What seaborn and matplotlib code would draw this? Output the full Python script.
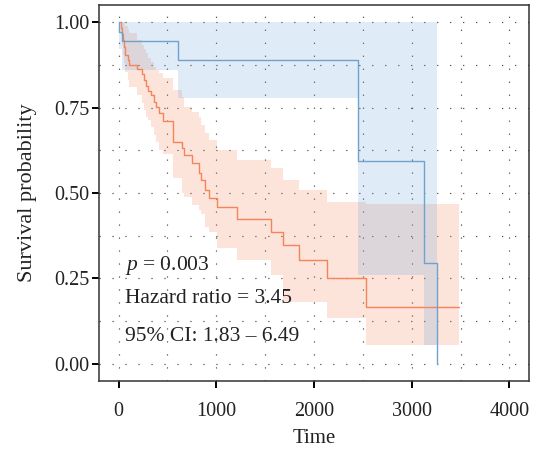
import matplotlib
matplotlib.use("Agg")
import matplotlib.pyplot as plt
import seaborn as sns
import pandas as pd
from matplotlib.ticker import MultipleLocator

# ---- data ----
blue_time = [0, 5, 35, 605, 2452, 3122, 3255]
blue_surv = [1.0, 0.972, 0.944, 0.889, 0.593, 0.296, 0.0]
blue_lower = [1.0, 0.92, 0.86, 0.779, 0.26, 0.056, 0.056]
blue_upper = [1.0, 1.0, 1.0, 1.0, 1.0, 1.0, 1.0]

orange_time = [0, 20, 31, 41, 51, 71, 92, 112, 184, 245, 265, 283, 300, 334, 367, 384,
               411, 452, 554, 650, 674, 753, 827, 842, 888, 929, 1004, 1208, 1559, 1687,
               1847, 2129, 2528, 3480]
orange_surv = [1.0, 0.982, 0.965, 0.947, 0.927, 0.904, 0.889, 0.874, 0.863, 0.848, 0.830,
               0.813, 0.799, 0.787, 0.767, 0.752, 0.734, 0.711, 0.650, 0.631, 0.611, 0.587,
               0.559, 0.537, 0.509, 0.485, 0.458, 0.424, 0.387, 0.348, 0.304, 0.252, 0.166,
               0.166]
orange_upper = [1.0, 1.0, 1.0, 1.0, 1.0, 0.99, 0.98, 0.968, 0.947, 0.933, 0.92, 0.909,
                0.895, 0.883, 0.87, 0.86, 0.85, 0.836, 0.80, 0.782, 0.752, 0.737, 0.723,
                0.70, 0.675, 0.655, 0.626, 0.598, 0.572, 0.538, 0.509, 0.475, 0.468, 0.468]
orange_lower = [1.0, 0.962, 0.933, 0.904, 0.88, 0.855, 0.83, 0.81, 0.787, 0.763, 0.743,
                0.723, 0.713, 0.694, 0.67, 0.65, 0.626, 0.615, 0.543, 0.499, 0.489, 0.465,
                0.45, 0.44, 0.40, 0.387, 0.338, 0.304, 0.26, 0.182, 0.182, 0.134, 0.056,
                0.056]

x_ticks = [0, 1000, 2000, 3000, 4000]
y_ticks = [0.0, 0.25, 0.50, 0.75, 1.00]
y_tick_labels = ["0.00", "0.25", "0.50", "0.75", "1.00"]
annot = ["$p$ = 0.003", "Hazard ratio = 3.45", "95% CI: 1.83 \u2013 6.49"]

ORANGE = "#F5845A"
BLUE = "#6FA3CD"
BLUE_FILL = "#5FA0DA"

sns.set_theme(style="white")
plt.rcParams["font.family"] = ["Liberation Serif", "DejaVu Serif"]
plt.rcParams["mathtext.fontset"] = "custom"
plt.rcParams["mathtext.rm"] = "Liberation Serif"
plt.rcParams["mathtext.it"] = "Liberation Serif:italic"

fig = plt.figure(figsize=(5.36, 4.55), dpi=100)
ax = fig.add_axes([99 / 536, 1 - 381 / 455, 430 / 536, 376 / 455])

# confidence bands
ax.fill_between(orange_time, orange_lower, orange_upper, step="post",
                color=ORANGE, alpha=0.22, linewidth=0, zorder=1)
ax.fill_between(blue_time, blue_lower, blue_upper, step="post",
                color=BLUE_FILL, alpha=0.2, linewidth=0, zorder=2)

df_o = pd.DataFrame({"time": orange_time, "surv": orange_surv})
df_b = pd.DataFrame({"time": blue_time, "surv": blue_surv})
sns.lineplot(data=df_o, x="time", y="surv", estimator=None, sort=False,
             drawstyle="steps-post", color=ORANGE, linewidth=1.0, ax=ax, zorder=3)
sns.lineplot(data=df_b, x="time", y="surv", estimator=None, sort=False,
             drawstyle="steps-post", color=BLUE, linewidth=1.0, ax=ax, zorder=4)

ax.set_xlim(-200, 4200)
ax.set_ylim(-0.05, 1.05)
ax.set_xticks(x_ticks)
ax.set_xticklabels([str(v) for v in x_ticks])
ax.set_yticks(y_ticks)
ax.set_yticklabels(y_tick_labels)
ax.xaxis.set_minor_locator(MultipleLocator(500))
ax.yaxis.set_minor_locator(MultipleLocator(0.125))

ax.grid(True, which="both", linestyle=(0, (1, 10)), color="#444444", linewidth=0.85)
ax.set_axisbelow(True)

for s in ax.spines.values():
    s.set_color("#333333")
    s.set_linewidth(1.1)

ax.tick_params(which="major", direction="out", length=5, width=1.4, color="black",
               labelsize=14.5, labelcolor="#222222", bottom=True, left=True)
ax.tick_params(axis="x", which="major", pad=10)
ax.tick_params(axis="y", which="major", pad=2)
ax.tick_params(which="minor", length=0)

ax.set_xlabel("Time", fontsize=15, color="#222222", labelpad=6)
ax.set_ylabel("Survival probability", fontsize=16, color="#222222", labelpad=12)

ys = [0.289, 0.190, 0.080]
for txt, yv in zip(annot, ys):
    ax.text(70, yv, txt, fontsize=15.5, color="#222222", va="center", ha="left", zorder=5)

fig.savefig("out.png", dpi=100)
